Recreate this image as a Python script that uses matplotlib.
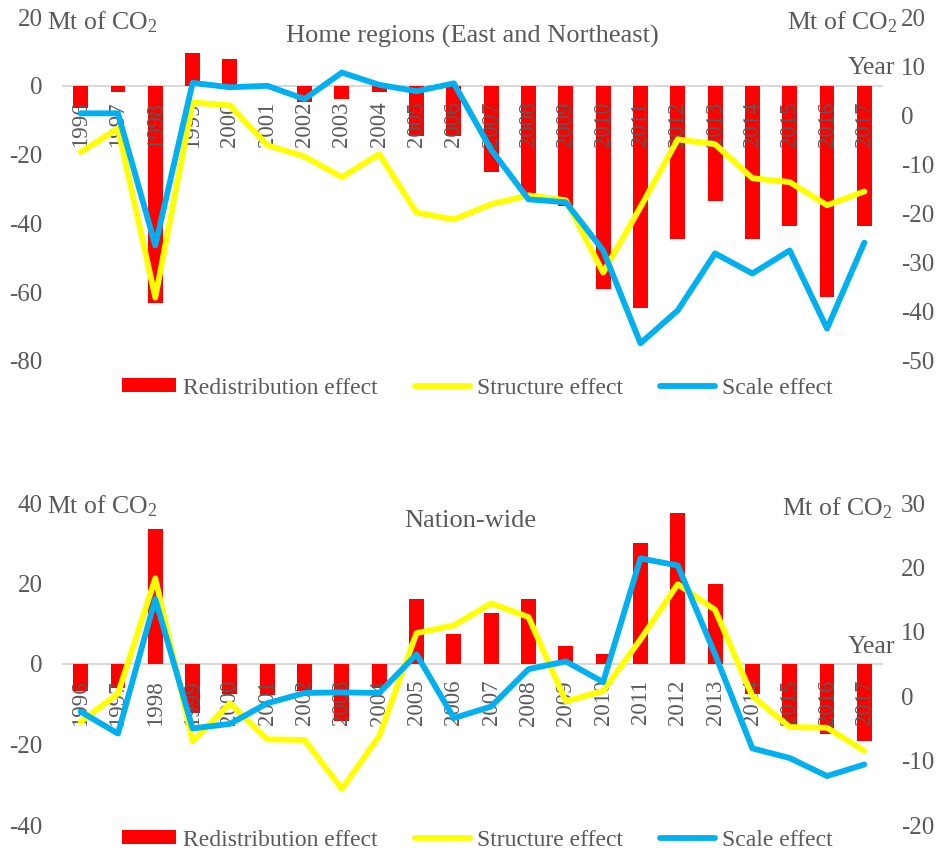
import matplotlib
matplotlib.use("Agg")
import matplotlib.pyplot as plt
from matplotlib.lines import Line2D
from matplotlib.patches import Patch

plt.rcParams['font.family'] = ['Liberation Serif', 'DejaVu Serif']
plt.rcParams['mathtext.fontset'] = 'custom'
plt.rcParams['mathtext.rm'] = 'Liberation Serif'
plt.rcParams['mathtext.it'] = 'Liberation Serif:italic'
plt.rcParams['mathtext.default'] = 'regular'
plt.rcParams['axes.unicode_minus'] = False

years = [str(y) for y in range(1996, 2018)]

# Home regions (East and Northeast), Mt of CO2
home_redistribution = [-6.4, -1.7, -63.0, 9.6, 7.9, 0.0, -4.7, -3.9, -1.8, -14.6, -14.6,
                       -25.1, -31.2, -35.0, -59.2, -64.7, -44.6, -33.5, -44.6, -40.8, -61.5, -40.8]
home_structure = [-7.5, -2.7, -37.1, 2.6, 2.0, -6.1, -8.4, -12.6, -7.9, -19.8, -21.2,
                  -18.1, -16.3, -17.3, -32.0, -18.7, -4.9, -5.9, -12.8, -13.6, -18.3, -15.5]
home_scale = [0.4, 0.4, -26.5, 6.6, 5.7, 6.0, 3.3, 8.7, 6.2, 4.9, 6.5,
              -7.0, -17.1, -17.7, -27.5, -46.4, -39.7, -28.1, -32.2, -27.5, -43.4, -25.9]

# Nation-wide, Mt of CO2
nation_redistribution = [-6.6, -6.0, 33.5, -12.2, -7.4, -7.7, -6.7, -14.2, -6.0, 16.1, 7.4,
                         12.7, 16.1, 4.4, 2.4, 30.0, 37.5, 19.9, -7.5, -15.4, -17.4, -19.1]
nation_structure = [-4.0, 0.4, 18.3, -7.0, -1.1, -6.7, -6.8, -14.4, -6.2, 9.8, 11.0,
                    14.4, 12.3, -0.8, 0.8, 8.8, 17.4, 13.4, 0.0, -4.8, -4.9, -8.5]
nation_scale = [-2.4, -5.8, 15.1, -5.0, -4.3, -1.1, 0.5, 0.6, 0.5, 6.5, -3.4,
                -1.6, 4.2, 5.4, 2.2, 21.4, 20.3, 6.5, -8.1, -9.6, -12.4, -10.6]

series_names = ['Redistribution effect', 'Structure effect', 'Scale effect']
RED, YELLOW, BLUE = '#FF0000', '#FFFF00', '#00B0F0'
GREY = '#595959'

W, H = 937, 856
fig = plt.figure(figsize=(W / 100, H / 100), dpi=100)


def fx(px):
    return px / W


def fy(py):
    return 1 - py / H


def panel(top_px, bottom_px, bars, structure, scale, llim, lticks, rlim, rticks):
    ax = fig.add_axes([fx(62), fy(bottom_px), fx(883 - 62), (bottom_px - top_px) / H])
    x = list(range(len(years)))
    ax.bar(x, bars, width=0.4, color=RED, zorder=2)
    ax.axhline(0, color='#D9D9D9', lw=1.5, zorder=1)
    for i, yr in enumerate(years):
        ax.annotate(yr, (i, 0), xytext=(0, -11.5), textcoords='offset points',
                    rotation=90, ha='center', va='top', fontsize=16.5,
                    color=GREY, zorder=3)
    ax.set_xlim(-0.5, len(years) - 0.5)
    ax.set_ylim(*llim)
    ax.set_yticks(lticks)
    ax.set_xticks([])
    ax.tick_params(axis='y', length=0, pad=14, labelsize=18, labelcolor=GREY)
    for s in ax.spines.values():
        s.set_visible(False)
    ax.patch.set_visible(False)

    ax2 = ax.twinx()
    ax2.plot(x, structure, color=YELLOW, lw=4.2, solid_joinstyle='round',
             solid_capstyle='round', zorder=3)
    ax2.plot(x, scale, color=BLUE, lw=4.2, solid_joinstyle='round',
             solid_capstyle='round', zorder=4)
    ax2.set_ylim(*rlim)
    ax2.set_yticks(rticks)
    ax2.tick_params(axis='y', length=0, pad=13, labelsize=18, labelcolor=GREY)
    for s in ax2.spines.values():
        s.set_visible(False)
    return ax, ax2


panel(17, 361, home_redistribution, home_structure, home_scale,
      (-80, 20), [-80, -60, -40, -20, 0, 20], (-50, 20), list(range(-50, 21, 10)))
panel(503, 825, nation_redistribution, nation_structure, nation_scale,
      (-40, 40), [-40, -20, 0, 20, 40], (-20, 30), list(range(-20, 31, 10)))

unit = 'Mt of CO$_2$'
fig.text(fx(47), fy(22), unit, fontsize=18.5, color=GREY, ha='left', va='center')
fig.text(fx(897), fy(22), unit, fontsize=18.5, color=GREY, ha='right', va='center')
fig.text(fx(895), fy(68), 'Year', fontsize=18.5, color=GREY, ha='right', va='center')
fig.text(fx(472), fy(36), 'Home regions (East and Northeast)', fontsize=19,
         color=GREY, ha='center', va='center')

fig.text(fx(47), fy(506), unit, fontsize=18.5, color=GREY, ha='left', va='center')
fig.text(fx(892), fy(508), unit, fontsize=18.5, color=GREY, ha='right', va='center')
fig.text(fx(895), fy(647), 'Year', fontsize=18.5, color=GREY, ha='right', va='center')
fig.text(fx(470), fy(521), 'Nation-wide', fontsize=19, color=GREY,
         ha='center', va='center')

handles = [Patch(facecolor=RED, edgecolor='none'),
           Line2D([], [], color=YELLOW, lw=4.2, solid_capstyle='round'),
           Line2D([], [], color=BLUE, lw=4.2, solid_capstyle='round')]
for ly in (388, 840):
    leg = fig.legend(handles, series_names, loc='center', bbox_to_anchor=(fx(477), fy(ly)),
                     ncol=3, frameon=False, fontsize=17, handlelength=2.3,
                     handleheight=0.5, handletextpad=0.3, columnspacing=1.6)
    for t in leg.get_texts():
        t.set_color(GREY)

fig.savefig('out.png', dpi=100, facecolor='white')
